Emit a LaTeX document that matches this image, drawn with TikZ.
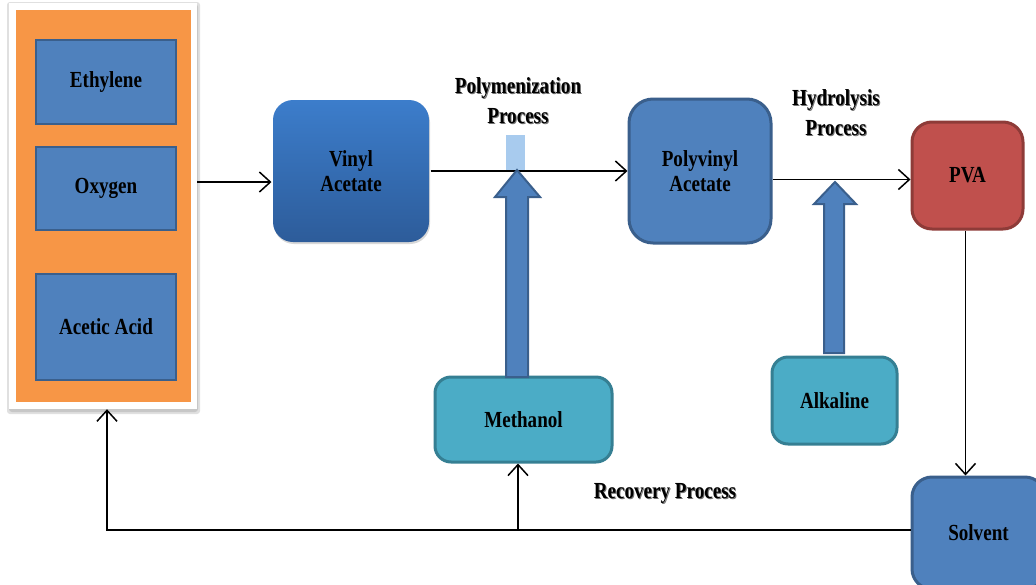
\documentclass[tikz,border=0pt]{standalone}
\usepackage{fontspec}
\setmainfont{Liberation Serif}[FakeStretch=0.83]
\usetikzlibrary{arrows.meta,shadows}
\definecolor{bfill}{HTML}{4F81BD}
\definecolor{bline}{HTML}{3A5F8C}
\definecolor{tfill}{HTML}{4BACC6}
\definecolor{tline}{HTML}{357F93}
\definecolor{rfill}{HTML}{C0504D}
\definecolor{rline}{HTML}{8E3B38}
\definecolor{ofill}{HTML}{F79646}
\definecolor{vtop}{HTML}{3C7DCB}
\definecolor{vbot}{HTML}{2D5C9A}
\definecolor{lblue}{HTML}{A8CBEE}
\tikzset{
  txt/.style={font=\bfseries\fontsize{23}{25}\selectfont, align=center, text=black},
  plab/.style={font=\bfseries\fontsize{23}{30}\selectfont, align=center, text=black},
  sqbox/.style={txt, draw=bline, fill=bfill, line width=2.5pt, inner sep=0pt},
  rbox/.style={txt, line width=3pt, rounded corners=20pt, inner sep=0pt},
  arr/.style={line width=1.5pt, -{Straight Barb[length=11pt,width=20pt,line width=1.5pt]}},
  barrow/.style={fill=bfill, draw=bline, line width=2pt, line join=miter},
}
\begin{document}
\begin{tikzpicture}[x=1pt,y=-1pt]
\useasboundingbox (0,0) rectangle (1036,584);
\clip (0,0) rectangle (1036,584);
\fill[white] (0,0) rectangle (1036,584);

% source panel
\fill[black!12, rounded corners=3pt] (7,2) rectangle (200,414);
\fill[black!22, rounded corners=3pt] (9,4) rectangle (198,412);
\node[fill=white, minimum width=188pt, minimum height=406pt, inner sep=0pt] (panel) at (103,206) {};
\fill[ofill] (16,10) rectangle (191,402);
\node[sqbox, minimum width=140pt, minimum height=84pt] (eth) at (106,82) {Ethylene};
\node[sqbox, minimum width=140pt, minimum height=83pt] (oxy) at (106,188.5) {Oxygen};
\node[sqbox, minimum width=140pt, minimum height=106pt] (ace) at (106,327) {Acetic Acid};

% main boxes
\node[rbox, draw=none, top color=vtop, bottom color=vbot, minimum width=156pt, minimum height=142pt,
      drop shadow={opacity=0.3, shadow xshift=1pt, shadow yshift=-2pt}] (va) at (351,171) {Vinyl\\Acetate};
\node[rbox, draw=bline, fill=bfill, minimum width=142pt, minimum height=144pt, rounded corners=24pt] (pvac) at (700,171) {Polyvinyl\\Acetate};
\node[rbox, draw=rline, fill=rfill, minimum width=111pt, minimum height=107pt] (pva) at (967.5,175.5) {PVA};
\node[rbox, draw=tline, fill=tfill, minimum width=177pt, minimum height=85pt, rounded corners=16pt] (meth) at (523.5,419.5) {Methanol};
\node[rbox, draw=tline, fill=tfill, minimum width=125pt, minimum height=87pt, rounded corners=16pt] (alk) at (834.5,400.5) {Alkaline};
\node[rbox, draw=bline, fill=bfill, minimum width=133pt, minimum height=112pt] (solv) at (978.5,533) {Solvent};

% process labels
\node[plab, text=black!55] at (519,102) {Polymenization\\Process};
\node[plab] (polyl) at (518,101) {Polymenization\\Process};
\node[plab, text=black!55] at (837,114) {Hydrolysis\\Process};
\node[plab] (hydl) at (836,113) {Hydrolysis\\Process};
\node[txt, text=black!55] at (666,494) {Recovery Process};
\node[txt] (recl) at (665,493) {Recovery Process};

% connectors
\coordinate (a1) at ([yshift=-11pt]va.west);
\draw[arr] (panel.east |- a1) -- (a1);
\fill[lblue] (506,135) rectangle (525,172);
\draw[arr] (va.east) -- (pvac.west);
\coordinate (a2) at ([yshift=-4pt]pva.west);
\draw[arr] (pvac.east |- a2) -- (a2);
\coordinate (a3) at ([xshift=-2pt]pva.south);
\draw[arr] (a3) -- (a3 |- solv.north);

% block arrows
\draw[barrow] (506,377) -- (506,197) -- (495,197) -- (517,170) -- (540,197) -- (528,197) -- (528,377) -- cycle;
\draw[barrow] (824,353) -- (824,204) -- (814,204) -- (835,182) -- (856,204) -- (844,204) -- (844,353) -- cycle;

% recovery lines
\coordinate (cL) at (107,530);
\coordinate (cM) at (518,530);
\draw[arr] (solv.west |- cL) -- (cL) -- (cL |- panel.south);
\draw[arr] (cM) -- (cM |- meth.south);
\end{tikzpicture}
\end{document}
